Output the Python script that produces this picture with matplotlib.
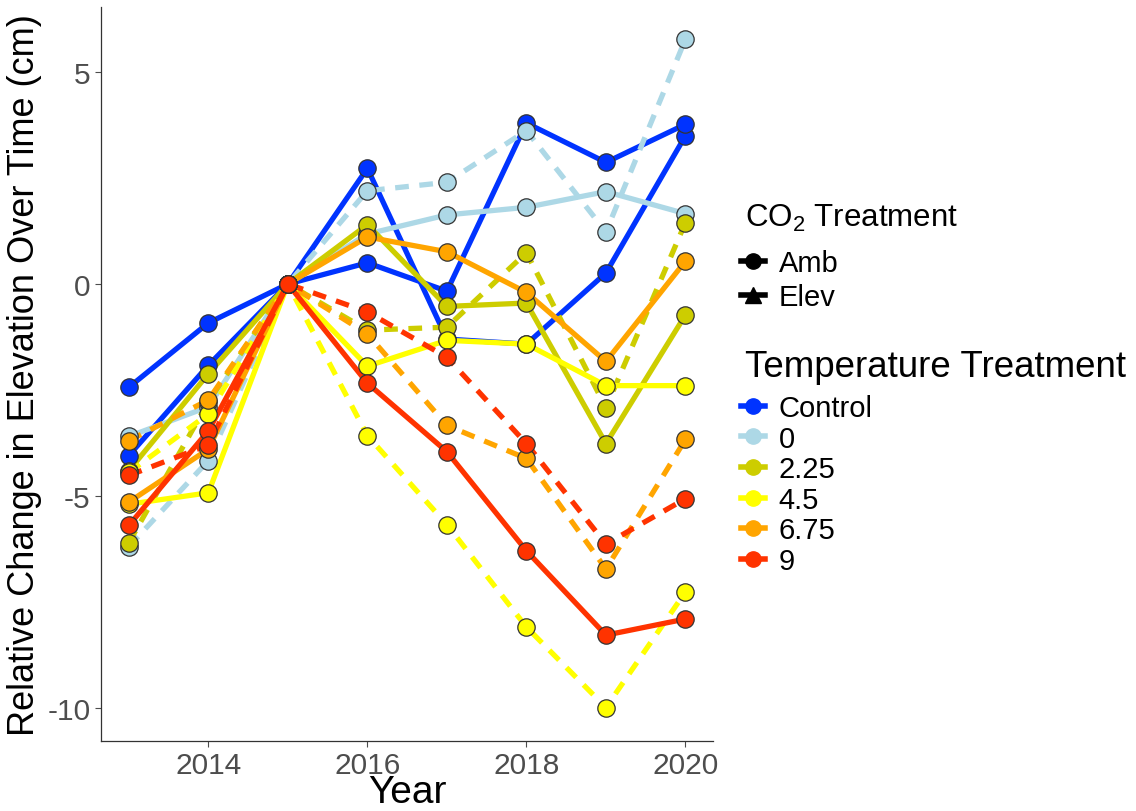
import matplotlib
matplotlib.use('Agg')
import matplotlib.pyplot as plt
from matplotlib.lines import Line2D

plt.rcParams['font.family'] = ['Liberation Sans', 'DejaVu Sans']
plt.rcParams['axes.unicode_minus'] = False
plt.rcParams['mathtext.default'] = 'regular'

# ------------------------------------------------------------------
# data
# ------------------------------------------------------------------
years = [2013, 2014, 2015, 2016, 2017, 2018, 2019, 2020]

temp_levels = ['Control', '0', '2.25', '4.5', '6.75', '9']
temp_colors = ['#0033FF', '#ADD8E6', '#CDCD00', '#FFFF00', '#FFA500', '#FF3300']
co2_levels = ['Amb', 'Elev']

control_amb  = [-2.44, -0.92, 0, 2.73, -1.30, -1.42, 0.26, 3.50]
control_elev = [-4.05, -1.92, 0, 0.50, -0.17, 3.80, 2.87, 3.77]
t0_amb       = [-3.60, -2.90, 0, 1.18, 1.63, 1.81, 2.18, 1.66]
t0_elev      = [-6.20, -4.17, 0, 2.20, 2.40, 3.62, 1.23, 5.78]
t225_amb     = [-4.41, -2.12, 0, 1.40, -0.53, -0.45, -3.77, -0.73]
t225_elev    = [-6.11, -2.78, 0, -1.09, -1.02, 0.74, -2.92, 1.45]
t45_amb      = [-5.20, -4.93, 0, -1.94, -1.33, -1.42, -2.40, -2.40]
t45_elev     = [-4.45, -3.07, 0, -3.58, -5.68, -8.10, -10.0, -7.27]
t675_amb     = [-5.15, -3.90, 0, 1.11, 0.76, -0.20, -1.83, 0.54]
t675_elev    = [-3.70, -2.74, 0, -1.18, -3.34, -4.12, -6.73, -3.67]
t9_amb       = [-5.70, -3.47, 0, -2.34, -3.96, -6.30, -8.29, -7.91]
t9_elev      = [-4.52, -3.80, 0, -0.66, -1.73, -3.77, -6.14, -5.07]

# (temperature index, values, dashed?)  control plotted solid for both
series = [
    (0, control_amb, False), (0, control_elev, False),
    (1, t0_amb, False), (1, t0_elev, True),
    (2, t225_amb, False), (2, t225_elev, True),
    (3, t45_amb, False), (3, t45_elev, True),
    (4, t675_amb, False), (4, t675_elev, True),
    (5, t9_amb, False), (5, t9_elev, True),
]

x_ticks = [2014, 2016, 2018, 2020]
y_ticks = [5, 0, -5, -10]

# ------------------------------------------------------------------
fig = plt.figure(figsize=(11.36, 8.12), dpi=100)
ax = fig.add_axes([0.0889, 0.0862, 0.539, 0.904])

for ti, vals, dashed in series:
    ls = (0, (2.6, 2.0)) if dashed else '-'
    ax.plot(years, vals, color=temp_colors[ti], lw=3.8, ls=ls,
            solid_capstyle='butt', dash_capstyle='butt', zorder=2)

for ti, vals, dashed in series:
    ax.plot(years, vals, ls='none', marker='o', ms=12.5,
            markerfacecolor=temp_colors[ti], markeredgecolor='#333333',
            markeredgewidth=0.9, zorder=3)

ax.set_xlim(2012.65, 2020.35)
ax.set_ylim(-10.79, 6.54)
ax.set_xticks(x_ticks)
ax.set_yticks(y_ticks)
ax.tick_params(labelsize=21.5, colors='#4D4D4D', length=4, width=0.8)
for s in ['top', 'right']:
    ax.spines[s].set_visible(False)
for s in ['left', 'bottom']:
    ax.spines[s].set_color('#333333')
    ax.spines[s].set_linewidth(0.9)

ax.set_xlabel('Year', fontsize=28, labelpad=-4)
ax.set_ylabel('Relative Change in Elevation Over Time (cm)', fontsize=26, labelpad=4)

# legends (titles placed as separate text to control the gap)
fig.text(745 / 1136, 1 - 218 / 812, r'CO$_2$ Treatment', fontsize=22.5,
         ha='left', va='center')
co2_handles = [
    Line2D([], [], color='black', lw=4, marker='o', ms=11),
    Line2D([], [], color='black', lw=4, marker='^', ms=12),
]
fig.legend(co2_handles, co2_levels, loc='upper left',
           bbox_to_anchor=(0.652, 1 - 250 / 812), frameon=False, fontsize=21,
           handlelength=0.85, handletextpad=0.45, labelspacing=0.2,
           borderpad=0, borderaxespad=0)

fig.text(745 / 1136, 1 - 368 / 812, 'Temperature Treatment', fontsize=26.5,
         ha='left', va='center')
temp_handles = [Line2D([], [], color=c, lw=4, marker='o', ms=11) for c in temp_colors]
fig.legend(temp_handles, temp_levels, loc='upper left',
           bbox_to_anchor=(0.652, 1 - 395 / 812), frameon=False, fontsize=21,
           handlelength=0.85, handletextpad=0.45, labelspacing=0.09,
           borderpad=0, borderaxespad=0)

fig.savefig('out.png', dpi=100)
